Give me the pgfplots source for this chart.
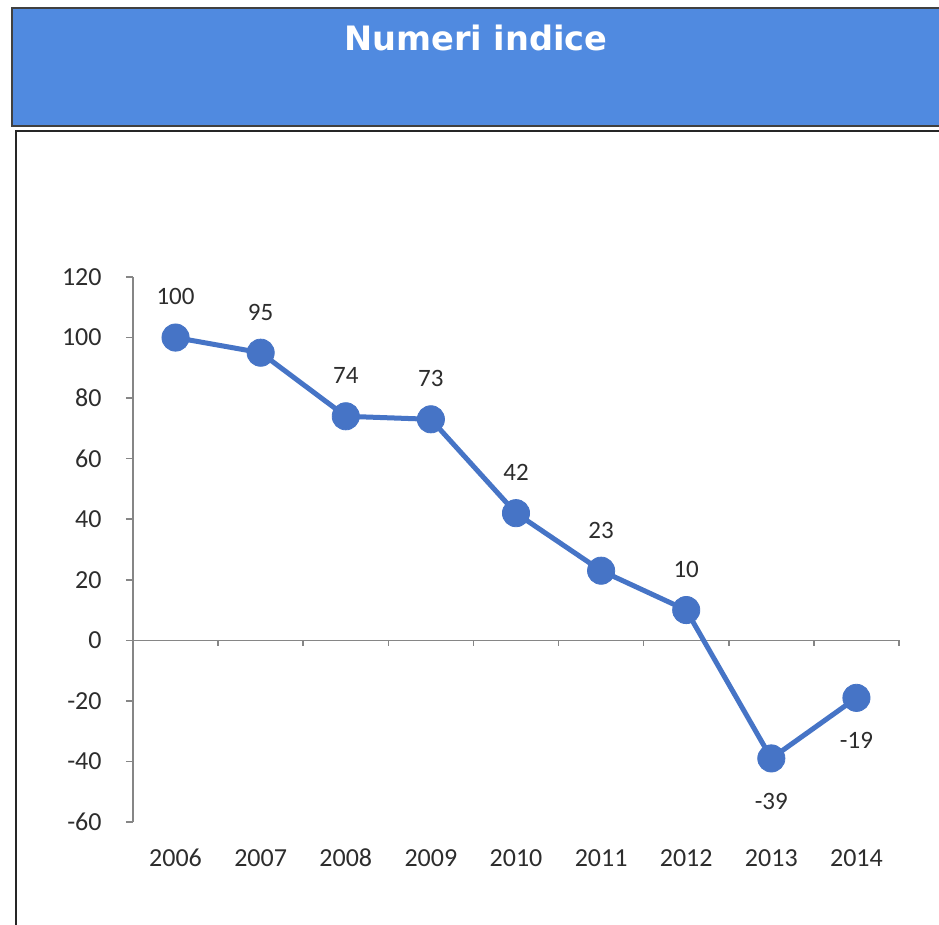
\documentclass[border=0pt]{standalone}
\usepackage{pgfplots}
\pgfplotsset{compat=1.18}
\usepackage{fontspec}
\setmainfont{Carlito}
\newfontfamily\titlefont{DejaVu Sans}
\definecolor{banner}{RGB}{80,138,224}
\definecolor{serie}{RGB}{70,116,198}
\definecolor{axgray}{RGB}{134,134,134}
\definecolor{txt}{RGB}{45,45,45}
\begin{document}
\begin{tikzpicture}
\clip (0pt,0pt) rectangle (469.5pt,-462.5pt);
\begin{scope}[x=0.5pt,y=-0.5pt]
\fill[white] (0,0) rectangle (939,925);
\filldraw[fill=banner, draw=black!75, line width=1pt] (12,8) rectangle (950,126);
\node[text=white, font=\titlefont\bfseries\fontsize{16.8}{20}\selectfont] at (476,38) {Numeri indice};
\draw[black!85, line width=1pt] (16,131) rectangle (950,940);
\end{scope}
\begin{axis}[
  at={(66.5pt,-411pt)}, anchor=south west,
  scale only axis, width=383pt, height=272.5pt,
  xmin=-0.5, xmax=8.5, ymin=-60, ymax=120,
  clip=false,
  axis y line=left, axis x line*=bottom,
  x axis line style={draw=none},
  y axis line style={-, axgray, line width=0.75pt},
  xtick={0,...,8},
  xticklabels={2006,2007,2008,2009,2010,2011,2012,2013,2014},
  xtick style={draw=none},
  ytick={-60,-40,-20,0,20,40,60,80,100,120},
  yticklabels={-60,-40,-20,0,20,40,60,80,100,120},
  ytick style={axgray, line width=0.75pt},
  tick align=outside, major tick length=3.5pt,
  tick label style={font=\fontsize{13}{15}\selectfont, text=txt},
  xticklabel style={anchor=north, inner sep=0pt, text height=9pt, text depth=0pt, yshift=-9.5pt},
  yticklabel style={anchor=east, inner sep=0pt, xshift=-12pt},
  /pgf/number format/assume math mode=true,
]
\draw[axgray, line width=0.75pt] (axis cs:-0.5,0) -- (axis cs:8.5,0);
\draw[axgray, line width=0.75pt] (axis cs:0.5,0) -- ++(0pt,-3pt);
\draw[axgray, line width=0.75pt] (axis cs:1.5,0) -- ++(0pt,-3pt);
\draw[axgray, line width=0.75pt] (axis cs:2.5,0) -- ++(0pt,-3pt);
\draw[axgray, line width=0.75pt] (axis cs:3.5,0) -- ++(0pt,-3pt);
\draw[axgray, line width=0.75pt] (axis cs:4.5,0) -- ++(0pt,-3pt);
\draw[axgray, line width=0.75pt] (axis cs:5.5,0) -- ++(0pt,-3pt);
\draw[axgray, line width=0.75pt] (axis cs:6.5,0) -- ++(0pt,-3pt);
\draw[axgray, line width=0.75pt] (axis cs:7.5,0) -- ++(0pt,-3pt);
\draw[axgray, line width=0.75pt] (axis cs:8.5,0) -- ++(0pt,-3pt);
\addplot[serie, line width=2.5pt, mark=*, mark size=6.8pt,
  mark options={fill=serie, draw=serie, line width=0.4pt}]
  coordinates {(0,100) (1,95) (2,74) (3,73) (4,42) (5,23) (6,10) (7,-39) (8,-19)};
\addplot[draw=none, mark=none, nodes near coords, point meta=explicit symbolic,
  nodes near coords style={anchor=south, inner sep=0pt, yshift=16pt,
    font=\fontsize{12.5}{15}\selectfont, text=txt}]
  coordinates {(0,100) [100] (1,95) [95] (2,74) [74] (3,73) [73] (4,42) [42] (5,23) [23] (6,10) [10]};
\addplot[draw=none, mark=none, nodes near coords, point meta=explicit symbolic,
  nodes near coords style={anchor=north, inner sep=0pt, yshift=-17pt,
    font=\fontsize{12.5}{15}\selectfont, text=txt}]
  coordinates {(7,-39) [-39] (8,-19) [-19]};
\end{axis}
\end{tikzpicture}
\end{document}
